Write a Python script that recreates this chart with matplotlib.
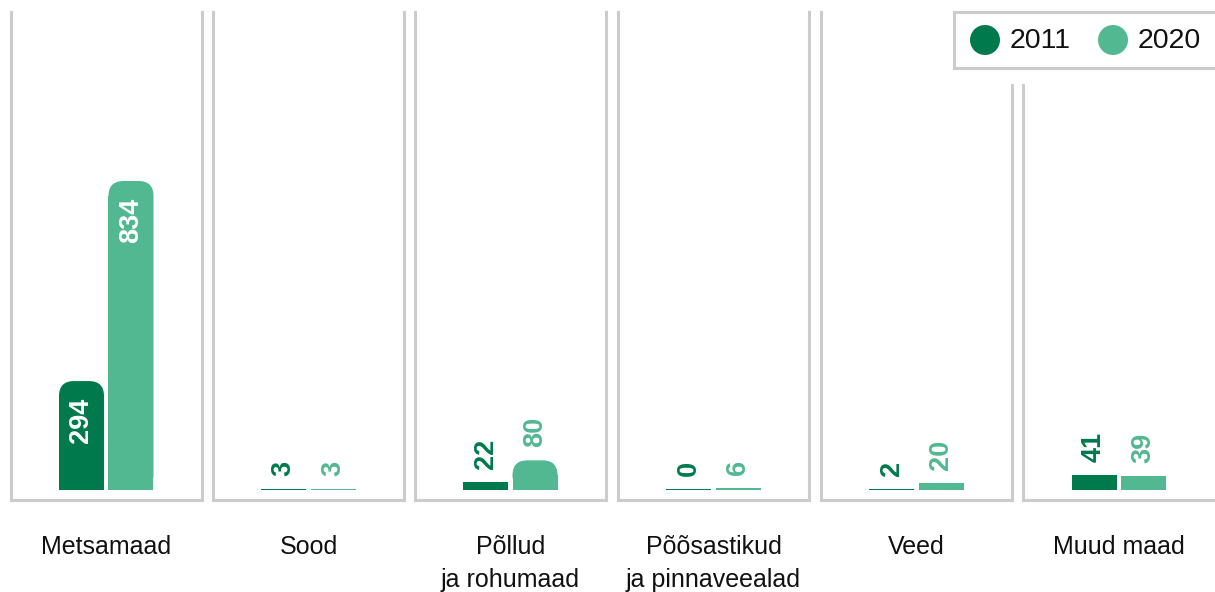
import matplotlib.pyplot as plt
from matplotlib.patches import FancyBboxPatch, Rectangle, Circle

plt.rcParams['font.family'] = ['Liberation Sans', 'DejaVu Sans']

categories = ["Metsamaad", "Sood", "Põllud\nja rohumaad", "Põõsastikud\nja pinnaveealad", "Veed", "Muud maad"]
years = ["2011", "2020"]
values_2011 = [294, 3, 22, 0, 2, 41]
values_2020 = [834, 3, 80, 6, 20, 39]

DARK = "#007a4c"
LIGHT = "#52b892"
GRID = "#cccccc"

W, H = 1215, 592
fig = plt.figure(figsize=(W / 100, H / 100), dpi=100)

panel_left = [11, 213, 415, 618, 821, 1023]
panel_w = 191
top_px, bottom_px = 12, 500
upp = 834 / 309  # data units per pixel
ylo, yhi = -10 * upp, (bottom_px - top_px - 10) * upp
bar_w, bar_off = 45, 25
radius = 15


def px(x, y, w, h):
    return [x / W, 1 - (y + h) / H, w / W, h / H]


def draw_bar(ax, xc, v, color):
    h_px = max(v / upp, 1)
    h = h_px * upp
    r = min(radius, h_px / 2)
    if h_px > 20:
        ax.add_patch(FancyBboxPatch((xc - bar_w / 2, 0), bar_w, h,
                                    boxstyle=f"round,pad=0,rounding_size={r}",
                                    mutation_aspect=upp, fc=color, ec="none"))
        ax.add_patch(Rectangle((xc - bar_w / 2, 0), bar_w, h - r * upp, fc=color, ec="none"))
    else:
        ax.bar(xc, h, width=bar_w, bottom=0, color=color, align="center")
    return h


for i, cat in enumerate(categories):
    wpx = panel_w + (1 if i == 5 else 0)
    ax = fig.add_axes(px(panel_left[i], top_px, wpx, bottom_px - top_px))
    ax.set_xlim(0, wpx)
    ax.set_ylim(ylo, yhi)
    ax.set_xticks([])
    ax.set_yticks([])
    ax.spines['top'].set_visible(False)
    for s in ['left', 'right', 'bottom']:
        ax.spines[s].set_color(GRID)
        ax.spines[s].set_linewidth(2.2)
    if i == 5:
        ax.spines['right'].set_visible(False)
        ax.spines['left'].set_bounds(ylo, ylo + (bottom_px - 85) * upp)
    if i == 4:
        ax.spines['right'].set_bounds(ylo, ylo + (bottom_px - 85) * upp)

    cx = wpx / 2
    for xc, v, col in [(cx - bar_off, values_2011[i], DARK), (cx + bar_off - 0.5, values_2020[i], LIGHT)]:
        h = draw_bar(ax, xc, v, col)
        if h / upp > 100:
            ax.text(xc, h - 17 * upp, str(v), rotation=90, ha="center", va="top",
                    color="white", fontsize=19.5, fontweight="bold")
        else:
            ax.text(xc, h + 13 * upp, str(v), rotation=90, ha="center", va="bottom",
                    color=col, fontsize=19.5, fontweight="bold")

    fig.text((panel_left[i] + wpx / 2) / W, 1 - 535 / H, cat, ha="center", va="top",
             fontsize=18, color="#111111", linespacing=1.5)

# legend box
lg = fig.add_axes(px(954, 12, 270, 56))
lg.set_xlim(0, 270)
lg.set_ylim(56, 0)
lg.set_xticks([])
lg.set_yticks([])
for s in lg.spines.values():
    s.set_color(GRID)
    s.set_linewidth(2.2)
for xcirc, xt, col, lab in [(31, 56, DARK, years[0]), (159, 184, LIGHT, years[1])]:
    lg.add_patch(Circle((xcirc, 28), 15, fc=col, ec="none"))
    lg.text(xt, 29, lab, ha="left", va="center", fontsize=20.5, color="#111111")

fig.savefig("out.png", dpi=100, facecolor="white")
